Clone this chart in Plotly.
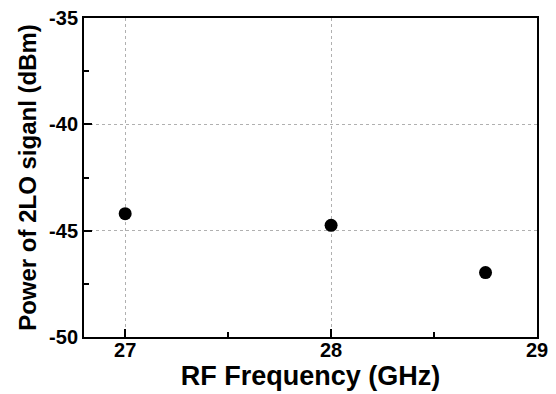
import plotly.graph_objects as go

freq_ghz = [27, 28, 28.75]
power_dbm = [-44.2, -44.75, -46.97]

x_tickvals = [27, 28, 29]
y_tickvals = [-50, -45, -40, -35]

fig = go.Figure()
fig.add_trace(go.Scatter(
    x=freq_ghz, y=power_dbm, mode="markers",
    marker=dict(color="black", size=13),
    showlegend=False,
))

font_family = "Liberation Sans, Arial, sans-serif"
axis_common = dict(
    showline=True, linecolor="black", linewidth=2, mirror=True,
    ticks="inside", ticklen=8, tickwidth=1.5, tickcolor="black",
    showgrid=True, gridcolor="#b0b0b0", griddash="dot", gridwidth=1,
    zeroline=False, automargin=False, ticklabeloverflow="allow",
    tickfont=dict(family=font_family, size=20, color="black", weight="bold"),
    minor=dict(ticks="inside", ticklen=5, tickwidth=1.5, tickcolor="black", showgrid=False),
)

fig.update_xaxes(
    range=[26.8, 29], tickvals=x_tickvals, ticktext=[str(v) for v in x_tickvals],
    minor_dtick=0.5, minor_tick0=27, ticklabelstandoff=-6,
    title=dict(text="RF Frequency (GHz)", standoff=0,
               font=dict(family=font_family, size=27, color="black", weight="bold")),
    **axis_common,
)
fig.update_yaxes(
    range=[-50, -35], tickvals=y_tickvals, ticktext=[str(v) for v in y_tickvals],
    minor_dtick=2.5, minor_tick0=-50,
    title=dict(text="Power of 2LO siganl (dBm)", standoff=6,
               font=dict(family=font_family, size=24, color="black", weight="bold")),
    **axis_common,
)

# page body has an 8px margin, so the figure is sized to fit the window from (8, 8)
fig.update_layout(
    width=548, height=386,
    margin=dict(l=76, r=19, t=10, b=57),
    plot_bgcolor="white", paper_bgcolor="white",
)
fig.write_html("out.html")
